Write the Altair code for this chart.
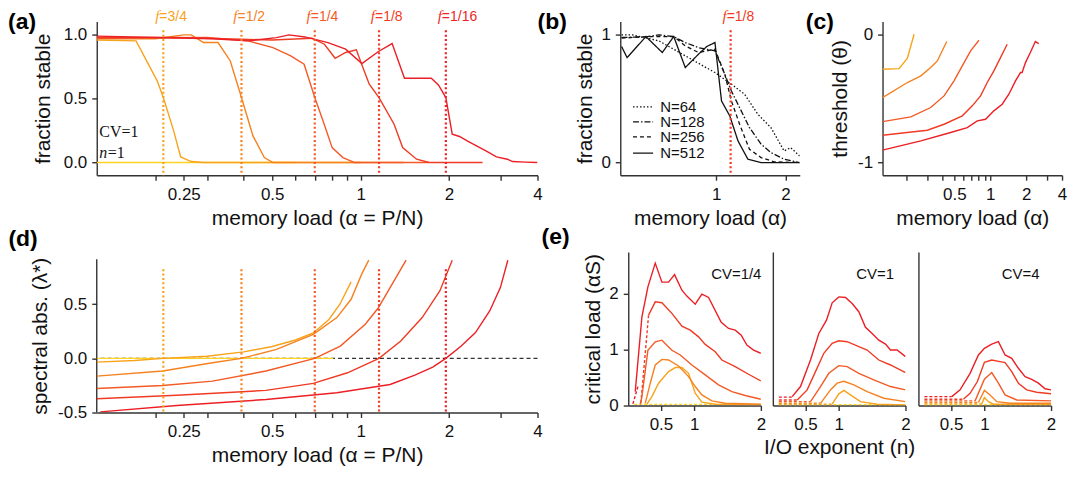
import altair as alt
import pandas as pd

SANS = "Liberation Sans"
SERIF = "Liberation Serif"
AX = "#333333"
INK = "#111111"

# ---------------- shared categories / colours ----------------
F_KEYS = ["1", "3/4", "1/2", "1/4", "1/8", "1/16"]
F_COLORS = ["#FFD320", "#F8A31C", "#F6811F", "#F35A25", "#EF3B24", "#EB1F25"]
F_LINE_KEYS = ["3/4", "1/2", "1/4", "1/8", "1/16"]
F_ALPHA = [0.213, 0.393, 0.698, 1.155, 1.95]

LOG_TICKS = [0.2, 0.25, 0.3, 0.4, 0.5, 0.6, 0.7, 0.8, 0.9, 1, 2, 3, 4]
LOG_LABELS_A = [0.25, 0.5, 1, 2, 4]
LOG_TICKS_C = [0.2, 0.3, 0.4, 0.5, 0.6, 0.7, 0.8, 0.9, 1, 2, 3, 4]
LOG_LABELS_C = [0.5, 1, 2, 4]

# ---------------- (a) fraction stable ----------------
A_X_1 = [0.1264, 0.6]
A_Y_1 = [0.0, 0.0]
A_X_34 = [0.1264, 0.172, 0.203, 0.213, 0.231, 0.244, 0.265, 0.292, 1.0]
A_Y_34 = [0.96, 0.953, 0.64, 0.509, 0.248, 0.044, 0.008, 0.0, 0.0]
A_X_12 = [0.1264, 0.2, 0.25, 0.265, 0.292, 0.327, 0.36, 0.393, 0.43, 0.47, 0.503, 1.4]
A_Y_12 = [0.97, 0.97, 1.0, 1.0, 0.94, 0.94, 0.796, 0.509, 0.209, 0.039, 0.0, 0.0]
A_X_14 = [0.1264, 0.3, 0.414, 0.503, 0.578, 0.642, 0.698, 0.745, 0.80, 0.87, 0.955, 1.71]
A_Y_14 = [0.974, 0.98, 0.953, 0.90, 0.836, 0.77, 0.509, 0.326, 0.117, 0.039, 0.0, 0.0]
A_X_18 = [0.1264, 0.237, 0.392, 0.5, 0.683, 0.753, 0.819, 0.889, 0.967, 1.008, 1.07,
          1.155, 1.30, 1.39, 1.55, 1.71, 2.6]
A_Y_18 = [0.98, 0.98, 0.966, 0.96, 0.974, 0.927, 0.817, 0.862, 0.883, 0.77, 0.614,
          0.509, 0.30, 0.117, 0.026, 0.0, 0.0]
A_X_116 = [0.1264, 0.313, 0.414, 0.517, 0.57, 0.646, 0.774, 0.889, 1.01, 1.15, 1.28,
           1.41, 1.74, 1.84, 1.95, 2.05, 2.17, 2.33, 2.67, 2.9, 3.16, 3.29, 3.63, 4.0]
A_Y_116 = [0.99, 0.97, 0.953, 0.979, 1.0, 0.984, 0.94, 0.888, 0.775, 0.87, 0.932,
           0.66, 0.66, 0.608, 0.509, 0.222, 0.204, 0.164, 0.091, 0.044, 0.026, 0.008, 0.003, 0.0]
A_NOTE_X = [0.129, 0.129]
A_NOTE_Y = [0.20, 0.039]

# ---------------- (b) finite size ----------------
B_N = ["N=64", "N=128", "N=256", "N=512"]
B_X_64 = [0.387, 0.432, 0.563, 0.733, 0.987, 1.164, 1.328, 1.516, 1.73, 1.974, 2.108, 2.305]
B_Y_64 = [1.0, 1.0, 0.953, 0.836, 0.705, 0.614, 0.535, 0.379, 0.274, 0.091, 0.117, 0.052]
B_X_128 = [0.387, 0.494, 0.563, 0.653, 0.733, 0.837, 0.987, 1.09, 1.164, 1.264, 1.395,
           1.567, 1.73, 1.974, 2.305]
B_Y_128 = [0.98, 0.984, 1.0, 0.987, 0.94, 0.90, 0.875, 0.69, 0.56, 0.43, 0.274,
           0.144, 0.078, 0.026, 0.0]
B_X_256 = [0.387, 0.494, 0.653, 0.733, 0.837, 0.987, 1.09, 1.164, 1.264, 1.395, 1.567, 1.788, 2.305]
B_Y_256 = [0.974, 0.987, 0.987, 0.914, 0.862, 0.888, 0.69, 0.483, 0.30, 0.104, 0.039, 0.005, 0.0]
B_X_512 = [0.387, 0.409, 0.494, 0.582, 0.653, 0.733, 0.837, 0.909, 0.987, 1.054, 1.145,
           1.243, 1.373, 1.567, 2.305]
B_Y_512 = [0.909, 0.822, 0.987, 0.862, 0.987, 0.744, 0.849, 0.909, 0.94, 0.483, 0.366,
           0.17, 0.026, 0.0, 0.0]
B_LEG_X = [0.434, 0.531]
B_LEG_TX = 0.57
B_LEG_Y = [0.436, 0.319, 0.201, 0.074]
B_DASH = [[1.5, 2], [6, 2, 1.5, 2], [4, 3], [1, 0]]

# ---------------- (c) threshold ----------------
C_X_34 = [0.125, 0.172, 0.202, 0.23]
C_Y_34 = [-0.269, -0.264, -0.183, 0.005]
C_X_12 = [0.125, 0.202, 0.262, 0.317, 0.36, 0.432]
C_Y_12 = [-0.491, -0.373, -0.321, -0.256, -0.204, -0.052]
C_X_14 = [0.125, 0.216, 0.317, 0.41, 0.497, 0.583, 0.685, 0.804]
C_Y_14 = [-0.679, -0.642, -0.569, -0.478, -0.36, -0.243, -0.125, -0.042]
C_X_18 = [0.125, 0.297, 0.41, 0.583, 0.707, 0.83, 0.944, 1.073, 1.22, 1.387]
C_Y_18 = [-0.786, -0.747, -0.70, -0.634, -0.556, -0.478, -0.373, -0.282, -0.178, -0.073]
C_X_116 = [0.125, 0.262, 0.466, 0.642, 0.779, 0.914, 1.073, 1.26, 1.433, 1.629, 1.794,
           1.85, 1.975, 2.17, 2.39, 2.55]
C_Y_116 = [-0.903, -0.83, -0.765, -0.726, -0.674, -0.661, -0.595, -0.543, -0.465, -0.36,
           -0.295, -0.295, -0.217, -0.138, -0.052, -0.068]

# ---------------- (d) spectral abscissa ----------------
D_X_1 = [0.1264, 0.807]
D_Y_1 = [0.0, 0.0]
D_X_34 = [0.1264, 0.17, 0.213, 0.3, 0.4, 0.5, 0.6, 0.69, 0.78, 0.85, 0.928]
D_Y_34 = [-0.035, -0.02, 0.0, 0.02, 0.06, 0.11, 0.17, 0.235, 0.36, 0.5, 0.707]
D_X_12 = [0.1264, 0.212, 0.313, 0.393, 0.517, 0.69, 0.83, 0.928, 1.008, 1.066]
D_Y_12 = [-0.164, -0.117, -0.04, 0.0, 0.083, 0.222, 0.377, 0.546, 0.778, 0.907]
D_X_14 = [0.1264, 0.212, 0.313, 0.476, 0.698, 0.853, 1.037, 1.146, 1.26, 1.428]
D_Y_14 = [-0.278, -0.25, -0.21, -0.117, 0.0, 0.114, 0.315, 0.463, 0.654, 0.907]
D_X_18 = [0.1264, 0.237, 0.476, 0.69, 0.902, 1.155, 1.37, 1.62, 1.86, 2.05]
D_Y_18 = [-0.373, -0.34, -0.296, -0.231, -0.133, 0.0, 0.16, 0.377, 0.623, 0.907]
D_X_116 = [0.13, 0.237, 0.476, 0.83, 1.26, 1.53, 1.76, 1.95, 2.2, 2.46, 2.75, 2.99, 3.17]
D_Y_116 = [-0.494, -0.435, -0.38, -0.318, -0.241, -0.154, -0.08, 0.0, 0.114, 0.238,
           0.438, 0.654, 0.907]

# ---------------- (e) critical load vs I/O exponent ----------------
E_CV = ["CV=1/4", "CV=1", "CV=4"]
E_CV_X = [1.631, 1.544, 1.544]
E_CV_Y = 2.257

E1_X_116 = [0.115, 0.215, 0.305, 0.415, 0.515, 0.615, 0.705, 0.815, 0.89, 1.015, 1.115,
            1.215, 1.405, 1.515, 1.615, 1.705, 1.79, 1.89, 2.0]
E1_Y_116 = [0.25, 1.59, 2.125, 2.55, 2.21, 2.21, 2.345, 2.065, 1.96, 1.815, 1.994,
            1.935, 1.49, 1.38, 1.35, 1.26, 1.083, 0.994, 0.935]
E1_X_18 = [0.315, 0.415, 0.515, 0.665, 0.815, 0.94, 1.065, 1.165, 1.315, 1.415, 1.615, 1.815, 2.0]
E1_Y_18 = [1.62, 1.857, 1.84, 1.65, 1.42, 1.35, 1.23, 1.095, 0.964, 0.815, 0.696, 0.56, 0.44]
E1_X_14 = [0.19, 0.215, 0.305, 0.415, 0.515, 0.665, 0.79, 0.965, 1.165, 1.365, 1.565, 1.765, 2.0]
E1_Y_14 = [0.02, 0.16, 0.99, 1.14, 1.17, 0.99, 0.905, 0.726, 0.548, 0.37, 0.25, 0.18, 0.113]
E1_X_12 = [0.265, 0.34, 0.415, 0.515, 0.615, 0.765, 0.915, 1.015, 1.115, 1.265, 1.465, 2.0]
E1_Y_12 = [0.04, 0.4, 0.726, 0.827, 0.815, 0.708, 0.518, 0.34, 0.19, 0.083, 0.042, 0.024]
E1_X_34 = [0.29, 0.365, 0.465, 0.615, 0.715, 0.815, 0.915, 1.015, 1.115, 1.315, 2.0]
E1_Y_34 = [0.024, 0.16, 0.4, 0.607, 0.68, 0.68, 0.577, 0.22, 0.06, 0.024, 0.012]
E1_DX_18 = [0.2, 0.315]
E1_DY_18 = [0.05, 1.62]
E1_DX_116 = [0.08, 0.16]
E1_DY_116 = [0.03, 0.36]
E1_DX_1 = [0.1, 2.0]
E1_DY_1 = [0.02, 0.02]

E2_X_116 = [0.3, 0.425, 0.575, 0.7, 0.815, 0.9, 1.0, 1.1, 1.2, 1.3, 1.4, 1.5, 1.6, 1.7,
            1.775, 1.875, 2.0]
E2_Y_116 = [0.16, 0.34, 0.815, 1.29, 1.53, 1.84, 1.946, 1.935, 1.827, 1.68, 1.4, 1.29,
            1.17, 1.1, 0.994, 0.994, 0.875]
E2_X_18 = [0.375, 0.525, 0.65, 0.775, 0.9, 1.0, 1.125, 1.3, 1.425, 1.6, 1.775, 2.0]
E2_Y_18 = [0.1, 0.28, 0.607, 0.935, 1.113, 1.16, 1.143, 1.054, 0.994, 0.815, 0.726, 0.59]
E2_X_14 = [0.575, 0.725, 0.85, 1.0, 1.125, 1.3, 1.525, 1.775, 2.0]
E2_Y_14 = [0.07, 0.34, 0.577, 0.714, 0.696, 0.577, 0.458, 0.34, 0.28]
E2_X_12 = [0.725, 0.875, 0.975, 1.075, 1.225, 1.425, 1.675, 2.0]
E2_Y_12 = [0.04, 0.28, 0.4, 0.435, 0.37, 0.25, 0.13, 0.07]
E2_X_34 = [0.9, 1.0, 1.075, 1.175, 1.325, 1.575, 2.0]
E2_Y_34 = [0.024, 0.21, 0.27, 0.19, 0.07, 0.024, 0.012]
E2_DASH_END = [0.3, 0.375, 0.575, 0.725, 0.9]
E2_DASH_Y = [0.15, 0.1, 0.07, 0.04, 0.024]

E3_X_116 = [0.51, 0.635, 0.785, 0.91, 1.0, 1.11, 1.21, 1.31, 1.41, 1.51, 1.61, 1.71,
            1.81, 1.91, 2.0]
E3_Y_116 = [0.16, 0.28, 0.577, 0.905, 1.024, 1.1, 1.143, 0.905, 0.845, 0.667, 0.518,
            0.47, 0.4, 0.3, 0.28]
E3_X_18 = [0.685, 0.785, 0.895, 1.0, 1.11, 1.235, 1.31, 1.41, 1.51, 1.635, 1.785, 2.0]
E3_Y_18 = [0.113, 0.22, 0.43, 0.774, 0.815, 0.786, 0.768, 0.607, 0.4, 0.28, 0.238, 0.21]
E3_X_14 = [0.86, 1.0, 1.11, 1.21, 1.31, 1.485, 2.0]
E3_Y_14 = [0.083, 0.47, 0.59, 0.4, 0.19, 0.1, 0.083]
E3_X_12 = [0.91, 1.0, 1.085, 1.185, 1.385, 2.0]
E3_Y_12 = [0.054, 0.27, 0.19, 0.07, 0.04, 0.04]
E3_X_34 = [0.96, 1.0, 1.06, 1.135, 2.0]
E3_Y_34 = [0.03, 0.143, 0.07, 0.024, 0.024]
E3_DASH_END = [0.51, 0.685, 0.86, 0.91, 0.96]
E3_DASH_Y = [0.16, 0.113, 0.083, 0.054, 0.03]
E_DASH_START = 0.1
E_FLAT_Y = 0.015

# ---------------- layout sizes (pixels) ----------------
W_WIDE, W_SMALL, W_E = 442, 180, 133
H_TOP, H_D, H_E = 154, 161, 154

COLOR = alt.Color("f:N", scale=alt.Scale(domain=F_KEYS, range=F_COLORS), legend=None)


def series_df(items):
    rows = []
    for key, xs, ys in items:
        for i, (x, y) in enumerate(zip(xs, ys)):
            rows.append({"f": key, "x": x, "y": y, "i": i})
    return pd.DataFrame(rows)


def label_expr(vals):
    return ("indexof([" + ",".join(repr(v) for v in vals) +
            "], datum.value) >= 0 ? '' + datum.value : ''")


def signed_expr(fmt):
    return (f"datum.value < 0 ? '-' + format(-datum.value, '{fmt}') : "
            f"format(datum.value, '{fmt}')")


def log_x(domain, ticks, labels, title, width, ty=49):
    return alt.X("x:Q", scale=alt.Scale(type="log", domain=domain, nice=False),
                 axis=alt.Axis(values=ticks, labelExpr=label_expr(labels), title=title,
                               titleX=width / 2, titleY=ty, titleBaseline="alphabetic"))


def lin_y(domain, ticks, expr, title, tx, ty, domain_line=True):
    return alt.Y("y:Q", scale=alt.Scale(domain=domain, nice=False, zero=False),
                 axis=alt.Axis(values=ticks, labelExpr=expr, title=title, titleX=tx,
                               titleY=ty, titleAngle=270, titleBaseline="alphabetic",
                               domain=domain_line))


def colored_lines(df, x, y, dash=None, width=1.4):
    kw = dict(strokeWidth=width, clip=True)
    if dash:
        kw["strokeDash"] = dash
    return alt.Chart(df).mark_line(**kw).encode(x=x, y=y, color=COLOR, order="i:Q")


def dotted_rules(x, top, bottom):
    df = pd.DataFrame({"f": F_LINE_KEYS, "x": F_ALPHA})
    return alt.Chart(df).mark_rule(strokeWidth=2.2, strokeDash=[2, 2.4]).encode(
        x=x, y=alt.datum(top), y2=alt.datum(bottom), color=COLOR)


def f_labels(keys, alphas, x, y_px):
    df = pd.DataFrame({"x": alphas, "f": keys, "lead": ["f"] * len(keys),
                       "rest": ["=" + k for k in keys]})
    lead = alt.Chart(df).mark_text(font=SERIF, fontStyle="italic", fontSize=15, align="right",
                                   baseline="alphabetic", dx=-4).encode(
        x=x, y=alt.value(y_px), text="lead:N", color=COLOR)
    rest = alt.Chart(df).mark_text(font=SANS, fontSize=14, align="left",
                                   baseline="alphabetic", dx=-4).encode(
        x=x, y=alt.value(y_px), text="rest:N", color=COLOR)
    return [lead, rest]


def panel_label(text, dx, dy):
    return alt.Chart(pd.DataFrame({"t": [text]})).mark_text(
        font=SANS, fontSize=23, fontWeight="bold", align="left", baseline="alphabetic",
        color="black").encode(x=alt.value(dx), y=alt.value(dy), text="t:N")


def spacer(w, h):
    return alt.Chart(pd.DataFrame({"v": [0]})).mark_point(opacity=0, size=1).encode(
        x=alt.value(1), y=alt.value(20)).properties(width=w, height=h)


# ================= panel (a) =================
xa = log_x([0.1264, 4], LOG_TICKS, LOG_LABELS_A, "memory load (α = P/N)", W_WIDE, 49)
ya = lin_y([-0.099, 1.104], [0, 0.5, 1], signed_expr(".1f"), "fraction stable",
           -47.5, H_TOP / 2)
df_a = series_df([("1", A_X_1, A_Y_1), ("3/4", A_X_34, A_Y_34), ("1/2", A_X_12, A_Y_12),
                  ("1/4", A_X_14, A_Y_14), ("1/8", A_X_18, A_Y_18), ("1/16", A_X_116, A_Y_116)])
note_df = pd.DataFrame({"x": A_NOTE_X, "y": A_NOTE_Y, "t": ["CV=1", "n"], "u": ["", "=1"]})
note_cv = alt.Chart(note_df.iloc[[0]]).mark_text(font=SERIF, fontSize=16, align="left",
                                                 baseline="alphabetic", color=INK).encode(
    x=xa, y=ya, text="t:N")
note_n = alt.Chart(note_df.iloc[[1]]).mark_text(font=SERIF, fontSize=16, fontStyle="italic",
                                                align="left", baseline="alphabetic",
                                                color=INK).encode(x=xa, y=ya, text="t:N")
note_n1 = alt.Chart(note_df.iloc[[1]]).mark_text(font=SERIF, fontSize=16, align="left",
                                                 baseline="alphabetic", dx=8.5,
                                                 color=INK).encode(x=xa, y=ya, text="u:N")
panel_a = alt.layer(
    colored_lines(df_a, xa, ya),
    dotted_rules(xa, 1.036, -0.099),
    *f_labels(F_LINE_KEYS, F_ALPHA, xa, -1),
    note_cv, note_n, note_n1,
    panel_label("(a)", -89, 7.8),
    panel_label("(d)", -88.6, 225.2),
).properties(width=W_WIDE, height=H_TOP)

# ================= panel (b) =================
xb = log_x([0.382, 2.31], [1, 2], [1, 2], "memory load (α)", W_SMALL, 49)
yb = lin_y([-0.099, 1.104], [0, 1], "'' + datum.value", "fraction stable", -29, H_TOP / 2)
b_layers = []
for name, xs, ys, dash in zip(B_N, [B_X_64, B_X_128, B_X_256, B_X_512],
                              [B_Y_64, B_Y_128, B_Y_256, B_Y_512], B_DASH):
    dfl = pd.DataFrame({"x": xs, "y": ys, "i": range(len(xs))})
    b_layers.append(alt.Chart(dfl).mark_line(color=INK, strokeWidth=1.3, strokeDash=dash,
                                             clip=True).encode(x=xb, y=yb, order="i:Q"))
for name, ly, dash in zip(B_N, B_LEG_Y, B_DASH):
    dfl = pd.DataFrame({"x": [B_LEG_X[0]], "x2": [B_LEG_X[1]], "y": [ly]})
    b_layers.append(alt.Chart(dfl).mark_rule(color=INK, strokeWidth=1.3, strokeDash=dash)
                    .encode(x=xb, x2="x2:Q", y=yb))
leg_df = pd.DataFrame({"x": [B_LEG_TX] * 4, "y": B_LEG_Y, "t": B_N})
b_layers.append(alt.Chart(leg_df).mark_text(font=SANS, fontSize=15, align="left",
                                            baseline="middle", color=INK).encode(
    x=xb, y=yb, text="t:N"))
b_rule_df = pd.DataFrame({"f": ["1/8"], "x": [F_ALPHA[3]]})
b_layers.append(alt.Chart(b_rule_df).mark_rule(strokeWidth=2.2, strokeDash=[2, 2.4]).encode(
    x=xb, y=alt.datum(1.036), y2=alt.datum(-0.099), color=COLOR))
b_layers += f_labels(["1/8"], [F_ALPHA[3]], xb, -1)
b_layers.append(panel_label("(b)", -83, 7.8))
b_layers.append(panel_label("(e)", -79, 222.8))
panel_b = alt.layer(*b_layers).properties(width=W_SMALL, height=H_TOP)

# ================= panel (c) =================
xc = log_x([0.125, 4], LOG_TICKS_C, LOG_LABELS_C, "memory load (α)", W_SMALL, 49)
yc = lin_y([-1.099, 0.104], [-1, 0], signed_expr("d"), "threshold (θ)", -36, H_TOP / 2)
df_c = series_df([("3/4", C_X_34, C_Y_34), ("1/2", C_X_12, C_Y_12), ("1/4", C_X_14, C_Y_14),
                  ("1/8", C_X_18, C_Y_18), ("1/16", C_X_116, C_Y_116)])
panel_c = alt.layer(
    colored_lines(df_c, xc, yc),
    panel_label("(c)", -77, 7.8),
).properties(width=W_SMALL, height=H_TOP)

# ================= panel (d) =================
xd = log_x([0.1264, 4], LOG_TICKS, LOG_LABELS_A, "memory load (α = P/N)", W_WIDE, 49.5)
yd = lin_y([-0.5, 0.983], [-0.5, 0, 0.5], signed_expr(".1f"), "spectral abs. (λ*)",
           -50, 84, domain_line=False)
df_d = series_df([("1", D_X_1, D_Y_1), ("3/4", D_X_34, D_Y_34), ("1/2", D_X_12, D_Y_12),
                  ("1/4", D_X_14, D_Y_14), ("1/8", D_X_18, D_Y_18), ("1/16", D_X_116, D_Y_116)])
d_axis = alt.Chart(pd.DataFrame({"v": [0]})).mark_rule(color=AX, strokeWidth=1.4).encode(
    x=alt.datum(0.1264), y=alt.datum(-0.5), y2=alt.datum(0.915))
d_zero = alt.Chart(pd.DataFrame({"v": [0]})).mark_rule(
    color="#333333", strokeWidth=1.3, strokeDash=[4, 3]).encode(y=alt.datum(0))
panel_d = alt.layer(
    d_axis, d_zero,
    colored_lines(df_d, xd, yd),
    dotted_rules(xd, 0.824, -0.5),
).properties(width=W_WIDE, height=H_D)


# ================= panel (e) =================
def e_x(title):
    if title:
        ax = alt.Axis(values=[0.5, 1, 2], labelExpr="'' + datum.value", title=title,
                      titleX=W_E / 2, titleY=48, titleBaseline="alphabetic")
    else:
        ax = alt.Axis(values=[0.5, 1, 2], labelExpr="'' + datum.value", title=None)
    return alt.X("x:Q", scale=alt.Scale(domain=[0.01, 2], nice=False, zero=False), axis=ax)


def e_y(first):
    if first:
        ax = alt.Axis(values=[0, 1, 2], labelExpr="'' + datum.value",
                      title="critical load (αS)", titleX=-29, titleY=H_E / 2,
                      titleAngle=270, titleBaseline="alphabetic")
    else:
        ax = alt.Axis(values=[0, 1, 2], labels=False, ticks=False, title=None)
    return alt.Y("y:Q", scale=alt.Scale(domain=[0, 2.75], nice=False, zero=False), axis=ax)


def e_panel(solid, dashed, cv_text, cv_x, x, y):
    cv_df = pd.DataFrame({"x": [cv_x], "y": [E_CV_Y], "t": [cv_text]})
    layers = [
        colored_lines(series_df(dashed), x, y, dash=[3, 2], width=1.4),
        colored_lines(series_df(solid), x, y, width=1.4),
        alt.Chart(cv_df).mark_text(font=SANS, fontSize=15, align="center",
                                   baseline="alphabetic", color=INK).encode(x=x, y=y, text="t:N"),
    ]
    return alt.layer(*layers).properties(width=W_E, height=H_E)


xe1, ye1 = e_x(None), e_y(True)
panel_e1 = e_panel(
    [("3/4", E1_X_34, E1_Y_34), ("1/2", E1_X_12, E1_Y_12), ("1/4", E1_X_14, E1_Y_14),
     ("1/8", E1_X_18, E1_Y_18), ("1/16", E1_X_116, E1_Y_116)],
    [("1", E1_DX_1, E1_DY_1), ("1/8", E1_DX_18, E1_DY_18), ("1/16", E1_DX_116, E1_DY_116)],
    E_CV[0], E_CV_X[0], xe1, ye1)

xe2, ye2 = e_x("I/O exponent (n)"), e_y(False)
dash2 = [("1", [E_DASH_START, 2.0], [E_FLAT_Y, E_FLAT_Y])] + [
    (k, [E_DASH_START, end], [yy, yy]) for k, end, yy in
    zip(["1/16", "1/8", "1/4", "1/2", "3/4"], E2_DASH_END, E2_DASH_Y)]
panel_e2 = e_panel(
    [("3/4", E2_X_34, E2_Y_34), ("1/2", E2_X_12, E2_Y_12), ("1/4", E2_X_14, E2_Y_14),
     ("1/8", E2_X_18, E2_Y_18), ("1/16", E2_X_116, E2_Y_116)],
    dash2, E_CV[1], E_CV_X[1], xe2, ye2)

xe3, ye3 = e_x(None), e_y(False)
dash3 = [("1", [E_DASH_START, 2.0], [E_FLAT_Y, E_FLAT_Y])] + [
    (k, [E_DASH_START, end], [yy, yy]) for k, end, yy in
    zip(["1/16", "1/8", "1/4", "1/2", "3/4"], E3_DASH_END, E3_DASH_Y)]
panel_e3 = e_panel(
    [("3/4", E3_X_34, E3_Y_34), ("1/2", E3_X_12, E3_Y_12), ("1/4", E3_X_14, E3_Y_14),
     ("1/8", E3_X_18, E3_Y_18), ("1/16", E3_X_116, E3_Y_116)],
    dash3, E_CV[2], E_CV_X[2], xe3, ye3)

# ================= assemble =================
row1 = alt.hconcat(panel_a, spacer(83, H_TOP), panel_b, spacer(83, H_TOP), panel_c,
                   spacing=0, bounds="flush")
row2 = alt.hconcat(panel_d, spacer(91, H_E), panel_e1, spacer(12, H_E), panel_e2,
                   spacer(13, H_E), panel_e3, spacing=0, bounds="flush")

chart = alt.vconcat(row1, row2, spacing=0).properties(
    padding={"left": 0, "top": 0, "right": 4, "bottom": 4}
).configure_view(stroke=None).configure_axis(
    domainColor=AX, domainWidth=1.4, tickColor=AX, tickWidth=1.4, tickSize=5,
    labelFont=SANS, labelFontSize=17, labelColor=INK, labelPadding=5,
    titleFont=SANS, titleFontSize=21, titleFontWeight="normal", titleColor=INK,
    grid=False, labelFlush=False, labelOverlap=False,
).configure_axisX(labelPadding=6)

chart.save("out.html", embed_options={"renderer": "svg", "actions": False})
